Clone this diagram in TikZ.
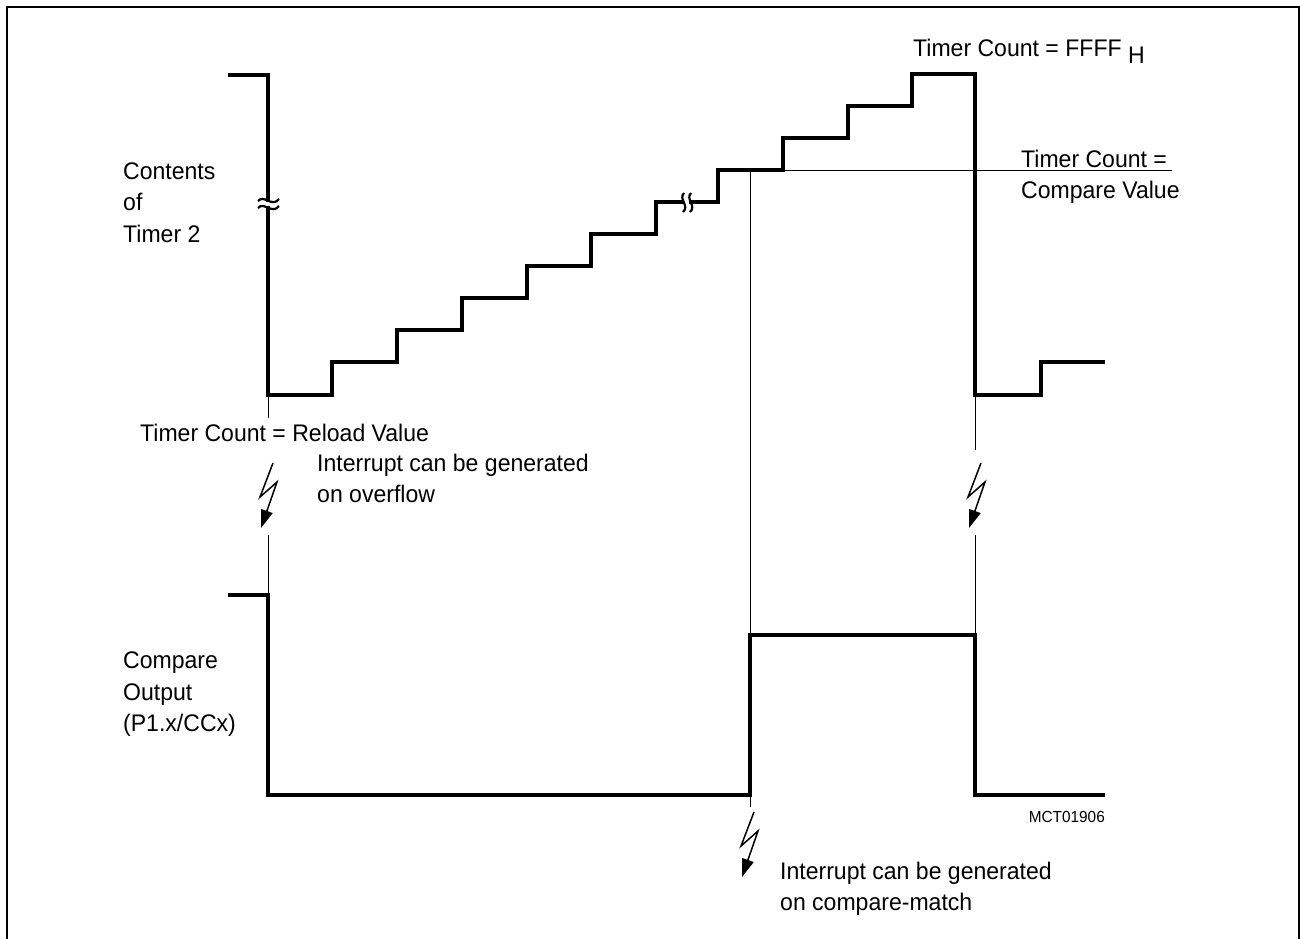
\documentclass[tikz,border=0pt]{standalone}
\usepackage{fontspec}
\setmainfont{Liberation Sans}[FakeStretch=0.96]
\usetikzlibrary{arrows.meta}
\begin{document}
\begin{tikzpicture}[x=1pt,y=-1pt,
  wave/.style={line width=4pt, line join=miter},
  guide/.style={line width=1pt},
  frame/.style={line width=2.5pt},
  brk/.style={line width=2.2pt},
  lbl/.style={anchor=base west, inner sep=0pt, font=\fontsize{24}{32}\selectfont},
  small/.style={anchor=base east, inner sep=0pt, font=\fontsize{16}{20}\selectfont},
  boltline/.style={line width=1.5pt, -{Triangle[length=18pt,width=12pt]}},
  pics/bolt/.style={code={\draw[boltline] (0,0) -- (-13,34) -- (4,19) -- (-12,65);}}]
\useasboundingbox (0,0) rectangle (1300,938);
% frame
\draw[frame] (7,945) -- (7,7) -- (1299,7) -- (1299,945);
% guide lines
\draw[guide] (268,395) -- (268,418);
\draw[guide] (268,535) -- (268,595);
\draw[guide] (975,395) -- (975,450);
\draw[guide] (975,535) -- (975,635);
\draw[guide] (750,170) -- (750,807);
\draw[guide] (750,170) -- (1172,170);
% timer contents
\draw[wave] (228,75) -- (268,75) -- (268,395) -- (332,395) -- (332,362) -- (397,362)
  -- (397,330) -- (462,330) -- (462,298) -- (527,298) -- (527,266) -- (591,266)
  -- (591,234) -- (656,234) -- (656,202) -- (718,202) -- (718,170) -- (783,170)
  -- (783,138) -- (848,138) -- (848,106) -- (912,106) -- (912,74) -- (975,74)
  -- (975,395) -- (1041,395) -- (1041,362) -- (1105,362);
% breaks
\fill[white] (262,201.5) rectangle (274,205.5);
\draw[brk] (258,201) .. controls (264,194) and (272,208) .. (279,199);
\draw[brk] (258,208) .. controls (264,201) and (272,215) .. (279,206);
\fill[white] (684,196) rectangle (689,208);
\draw[brk] (684,193) .. controls (678,199) and (690,206) .. (683,212);
\draw[brk] (691,193) .. controls (685,199) and (697,206) .. (690,212);
% compare output
\draw[wave] (228,595) -- (268,595) -- (268,795) -- (750,795) -- (750,635) -- (975,635)
  -- (975,795) -- (1105,795);
% interrupt bolts
\pic (boltA) at (273,463) {bolt};
\pic (boltB) at (981,463) {bolt};
\pic (boltC) at (754,812) {bolt};
% labels
\node[lbl] (contents) at (123,179) {Contents};
\node[lbl] (of) at (123,210) {of};
\node[lbl] (timer2) at (123,242) {Timer 2};
\node[lbl] (tcmax) at (913,56) {Timer Count = FFFF};
\node[lbl] (tcmaxH) at (1128,63) {H};
\node[lbl] (tccmp1) at (1021,167) {Timer Count =};
\node[lbl] (tccmp2) at (1021,198) {Compare Value};
\node[lbl] (tcrel) at (140,441) {Timer Count = Reload Value};
\node[lbl] (ovf1) at (317,471) {Interrupt can be generated};
\node[lbl] (ovf2) at (317,502) {on overflow};
\node[lbl] (cmp1) at (123,668) {Compare};
\node[lbl] (cmp2) at (123,700) {Output};
\node[lbl] (cmp3) at (123,731) {(P1.x/CCx)};
\node[lbl] (cm1) at (780,879) {Interrupt can be generated};
\node[lbl] (cm2) at (780,910) {on compare-match};
\node[small] (id) at (1105,822) {MCT01906};
\end{tikzpicture}
\end{document}
